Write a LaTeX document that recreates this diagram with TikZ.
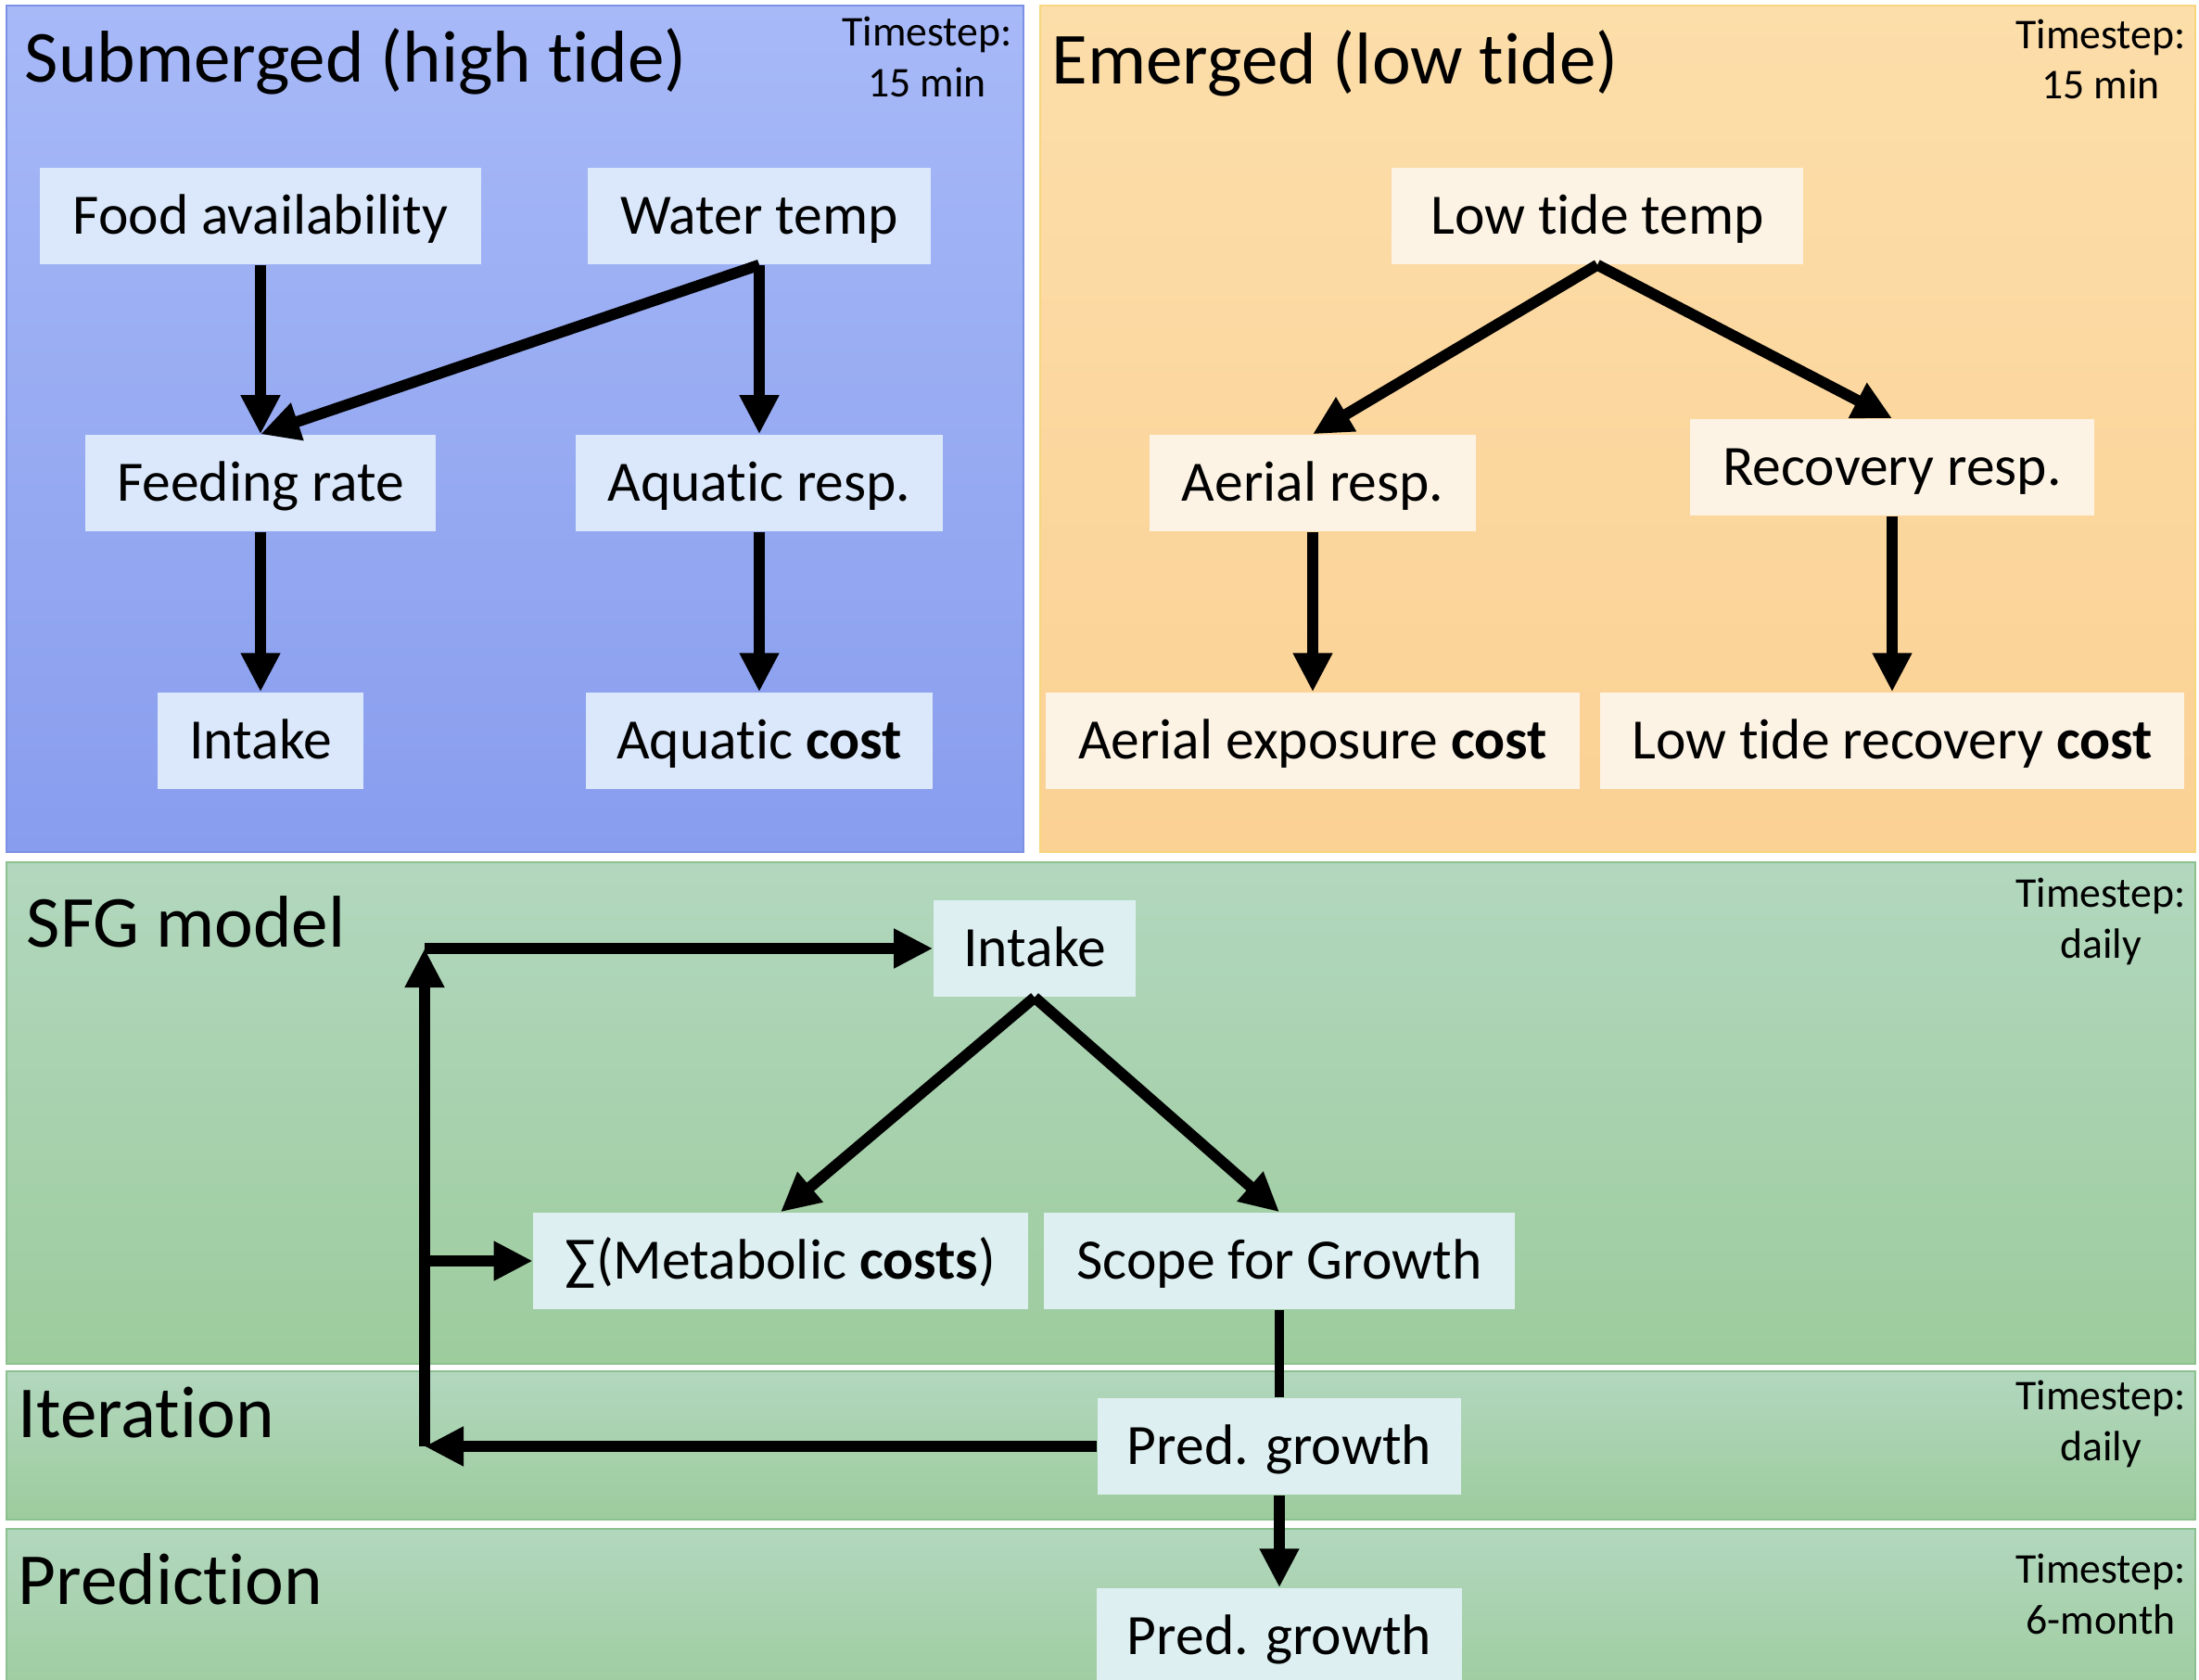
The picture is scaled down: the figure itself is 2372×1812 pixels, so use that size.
\documentclass[tikz,border=0pt]{standalone}
\usepackage{fontspec}
\setmainfont{Carlito}[Ligatures=NoCommon]
\usetikzlibrary{arrows.meta,calc}
\definecolor{topblue}{RGB}{167,185,247}
\definecolor{botblue}{RGB}{136,157,238}
\definecolor{edgeblue}{RGB}{125,145,228}
\definecolor{nodeblue}{RGB}{219,232,251}
\definecolor{toporange}{RGB}{252,222,170}
\definecolor{botorange}{RGB}{251,209,148}
\definecolor{edgeorange}{RGB}{247,214,125}
\definecolor{nodeorange}{RGB}{253,243,229}
\definecolor{topgreen}{RGB}{178,215,190}
\definecolor{botgreen}{RGB}{157,204,157}
\definecolor{edgegreen}{RGB}{140,192,142}
\definecolor{nodegreen}{RGB}{221,239,241}

\begin{document}
\begin{tikzpicture}[x=0.01cm,y=-0.01cm,
    box/.style={inner sep=0pt,minimum height=1.04cm,text height=11.1pt,text depth=0pt,
      font=\fontsize{17.5}{21}\selectfont},
    title/.style={anchor=west,inner sep=0pt,text height=14.2pt,text depth=0pt,
      font=\fontsize{22.5}{27}\selectfont},
    tstep/.style={align=center,inner sep=0pt,font=\fontsize{13}{15.6}\selectfont},
    arr/.style={line width=3.4pt,-{Triangle[length=0.42cm,width=0.40cm]}}]
    \useasboundingbox (0,0) rectangle (2372,1812);
    \fill[white] (0,0) rectangle (2372,1812);
    \foreach \N/\Xa/\Ya/\Xb/\Yb/\C in
    {P-1/7/6/1104/919/blue,P-2/1122/6/2368/919/orange,P-3/7/930/2368/1471/green,
     P-4/7/1479/2368/1639/green,P-5/7/1649/2368/1840/green}
     {\draw[draw=edge\C,line width=0.6pt,top color=top\C,bottom color=bot\C]
        (\Xa,\Ya) rectangle (\Xb,\Yb);}
    \node[title] (T-1) at (26,64) {Submerged (high tide)};
    \node[title] (T-2) at (1134,66) {Emerged (low tide)};
    \node[title] (T-3) at (28,997) {SFG model};
    \node[title] (T-4) at (19,1526) {Iteration};
    \node[title] (T-5) at (19,1706) {Prediction};
    \foreach \X/\Y/\Z [count=\i] in {1000/61/15 min,2266/64/15 min,2266/994/daily,
      2266/1536/daily,2266/1719/6-month}
     {\node[tstep] (S-\i) at (\X,\Y) {Timestep:\\\Z};}
    % submerged
    \begin{scope}[box/.append style={fill=nodeblue}]
    \node[box,minimum width=4.75cm] (food) at (281,233) {Food availability};
    \node[box,minimum width=3.70cm] (wtemp) at (819,233) {Water temp};
    \node[box,minimum width=3.78cm] (feed) at (281,521) {Feeding rate};
    \node[box,minimum width=3.95cm] (aqresp) at (819,521) {Aquatic resp.};
    \node[box,minimum width=2.21cm] (intakeH) at (281,799) {Intake};
    \node[box,minimum width=3.73cm] (aqcost) at (819,799) {Aquatic \textbf{cost}};
    \end{scope}
    % emerged
    \begin{scope}[box/.append style={fill=nodeorange}]
    \node[box,minimum width=4.43cm] (ltemp) at (1723,233) {Low tide temp};
    \node[box,minimum width=3.51cm] (aerresp) at (1416,521) {Aerial resp.};
    \node[box,minimum width=4.36cm] (recresp) at (2041,504) {Recovery resp.};
    \node[box,minimum width=5.75cm] (aercost) at (1416,799) {Aerial exposure \textbf{cost}};
    \node[box,minimum width=6.30cm] (reccost) at (2041,799) {Low tide recovery \textbf{cost}};
    \end{scope}
    % SFG model
    \begin{scope}[box/.append style={fill=nodegreen}]
    \node[box,minimum width=2.18cm] (intake) at (1116,1023) {Intake};
    \node[box,minimum width=5.33cm] (metab) at (842,1360) {∑(Metabolic \textbf{costs})};
    \node[box,minimum width=5.07cm] (sfg) at (1380,1360) {Scope for Growth};
    \node[box,minimum width=3.92cm] (predI) at (1380,1560) {Pred. growth};
    \node[box,minimum width=3.93cm] (predP) at (1380,1765) {Pred. growth};
    \end{scope}
    \draw[arr] (food.south) -- (feed.north);
    \draw[arr] (wtemp.south) -- (feed.north);
    \draw[arr] (wtemp.south) -- (aqresp.north);
    \draw[arr] (feed.south) -- (intakeH.north);
    \draw[arr] (aqresp.south) -- (aqcost.north);
    \draw[arr] (ltemp.south) -- (aerresp.north);
    \draw[arr] (ltemp.south) -- (recresp.north);
    \draw[arr] (aerresp.south) -- (aercost.north);
    \draw[arr] (recresp.south) -- (reccost.north);
    \draw[arr] (intake.south) -- (metab.north);
    \draw[arr] (intake.south) -- (sfg.north);
    \draw[line width=3pt] (sfg.south) -- (predI.north);
    \coordinate (loopB) at (458,1560);
    \coordinate (loopT) at (loopB |- intake.west);
    \draw[arr] (predI.west) -- (loopB);
    \draw[arr] (loopB) -- (loopT);
    \draw[arr] (loopT) -- (intake.west);
    \draw[arr] (loopB |- metab.west) -- (metab.west);
    \draw[arr] (predI.south) -- (predP.north);
\end{tikzpicture}
\end{document}
